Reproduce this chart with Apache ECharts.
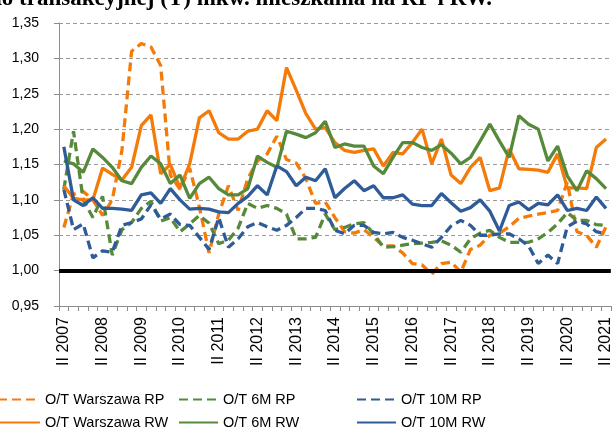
<!DOCTYPE html>
<html>
<head>
<meta charset="utf-8">
<script src="https://cdn.jsdelivr.net/npm/echarts@6/dist/echarts.min.js"></script>
<style>
  html, body { margin: 0; padding: 0; background: #fff; }
  #chart { width: 614px; height: 435px; }
</style>
</head>
<body>
<div id="chart"></div>
<script>
// kwartaly od II 2007 do II 2021
var quarterNames = ['I', 'II', 'III', 'IV'];
var categories = [];
for (var y = 2007; y <= 2021; y++) {
    for (var q = 0; q < 4; q++) {
        if (y === 2007 && q === 0) continue;
        if (y === 2021 && q > 1) continue;
        categories.push(quarterNames[q] + ' ' + y);
    }
}

// os Y
var yMin = 0.95;
var yMax = 1.35;
var yStep = 0.05;
var baseLevel = 1.00;

// O/T Warszawa RP
var warszawaRP = [1.061, 1.108, 1.112, 1.100, 1.078, 1.100, 1.170, 1.310, 1.321, 1.316,
    1.290, 1.135, 1.115, 1.145, 1.090, 1.025, 1.080, 1.120, 1.085, 1.130,
    1.155, 1.165, 1.190, 1.157, 1.152, 1.130, 1.095, 1.097, 1.075, 1.055,
    1.053, 1.058, 1.047, 1.035, 1.035, 1.025, 1.010, 1.008, 0.995, 1.010,
    1.012, 0.998, 1.030, 1.036, 1.050, 1.053, 1.062, 1.074, 1.077, 1.080,
    1.082, 1.085, 1.125, 1.055, 1.050, 1.033, 1.062];

// O/T 6M RP
var m6RP = [1.115, 1.197, 1.100, 1.075, 1.105, 1.022, 1.058, 1.068, 1.088, 1.098,
    1.070, 1.075, 1.055, 1.066, 1.078, 1.067, 1.038, 1.043, 1.060, 1.095,
    1.088, 1.092, 1.088, 1.080, 1.045, 1.045, 1.047, 1.080, 1.058, 1.061,
    1.066, 1.068, 1.052, 1.033, 1.034, 1.036, 1.038, 1.039, 1.040, 1.042,
    1.036, 1.026, 1.045, 1.053, 1.057, 1.047, 1.040, 1.040, 1.040, 1.045,
    1.054, 1.066, 1.082, 1.071, 1.071, 1.065, 1.064];

// O/T 10M RP
var m10RP = [1.115, 1.058, 1.066, 1.018, 1.028, 1.026, 1.064, 1.068, 1.073, 1.093,
    1.073, 1.080, 1.065, 1.064, 1.047, 1.030, 1.075, 1.033, 1.045, 1.062,
    1.068, 1.062, 1.057, 1.064, 1.075, 1.088, 1.088, 1.085, 1.057, 1.052,
    1.064, 1.064, 1.054, 1.052, 1.054, 1.047, 1.043, 1.038, 1.033, 1.047,
    1.063, 1.071, 1.064, 1.050, 1.050, 1.052, 1.052, 1.045, 1.035, 1.010,
    1.022, 1.010, 1.062, 1.070, 1.066, 1.055, 1.052];

// O/T Warszawa RW
var warszawaRW = [1.120, 1.102, 1.100, 1.100, 1.145, 1.136, 1.128, 1.146, 1.205, 1.220,
    1.137, 1.150, 1.117, 1.151, 1.216, 1.226, 1.195, 1.186, 1.186, 1.197,
    1.200, 1.226, 1.212, 1.287, 1.255, 1.222, 1.200, 1.202, 1.181, 1.170,
    1.167, 1.170, 1.172, 1.148, 1.167, 1.165, 1.181, 1.200, 1.151, 1.186,
    1.135, 1.123, 1.146, 1.160, 1.113, 1.117, 1.172, 1.144, 1.143, 1.142,
    1.139, 1.165, 1.117, 1.117, 1.116, 1.174, 1.186];

// O/T 6M RW
var m6RW = [1.155, 1.151, 1.139, 1.172, 1.160, 1.146, 1.127, 1.123, 1.146, 1.162,
    1.151, 1.123, 1.135, 1.102, 1.123, 1.132, 1.116, 1.107, 1.107, 1.116,
    1.162, 1.153, 1.146, 1.197, 1.193, 1.188, 1.195, 1.211, 1.174, 1.179,
    1.176, 1.176, 1.148, 1.137, 1.160, 1.181, 1.181, 1.174, 1.170, 1.178,
    1.166, 1.151, 1.160, 1.183, 1.207, 1.183, 1.160, 1.219, 1.207, 1.200,
    1.155, 1.176, 1.134, 1.113, 1.141, 1.130, 1.116];

// O/T 10M RW
var m10RW = [1.175, 1.100, 1.092, 1.103, 1.088, 1.088, 1.087, 1.085, 1.107, 1.110,
    1.095, 1.116, 1.100, 1.087, 1.088, 1.087, 1.083, 1.082, 1.095, 1.105,
    1.120, 1.107, 1.148, 1.140, 1.120, 1.132, 1.127, 1.144, 1.103, 1.116,
    1.127, 1.113, 1.120, 1.103, 1.103, 1.107, 1.094, 1.092, 1.092, 1.109,
    1.096, 1.084, 1.089, 1.100, 1.084, 1.056, 1.092, 1.097, 1.086, 1.095,
    1.093, 1.107, 1.085, 1.088, 1.085, 1.104, 1.088];

var ORANGE = '#F47B0A';
var GREEN = '#568A3A';
var BLUE = '#2F5B98';
var FONT = 'Arial, "Liberation Sans", sans-serif';

function makeSeries(name, data, color, dashed) {
    return {
        name: name,
        type: 'line',
        data: data,
        symbol: 'none',
        smooth: false,
        lineStyle: {
            color: color,
            width: 3.3,
            type: dashed ? [9, 5] : 'solid',
            cap: 'butt'
        },
        itemStyle: { color: color }
    };
}

var series = [
    makeSeries('O/T Warszawa RP', warszawaRP, ORANGE, true),
    makeSeries('O/T 6M RP', m6RP, GREEN, true),
    makeSeries('O/T 10M RP', m10RP, BLUE, true),
    makeSeries('O/T Warszawa RW', warszawaRW, ORANGE, false),
    makeSeries('O/T 6M RW', m6RW, GREEN, false),
    makeSeries('O/T 10M RW', m10RW, BLUE, false)
];

// czarna linia na poziomie 1,00
series[0].markLine = {
    silent: true,
    symbol: 'none',
    label: { show: false },
    lineStyle: { color: '#000', width: 4, type: 'solid' },
    data: [{ yAxis: baseLevel }]
};

// legenda - 2 wiersze po 3 pozycje
var legendPos = [
    { left: -3, top: 392, w: 42 },
    { left: 178, top: 392, w: 39 },
    { left: 356, top: 392, w: 39 },
    { left: -3, top: 415, w: 42 },
    { left: 178, top: 415, w: 39 },
    { left: 356, top: 415, w: 39 }
];
var legends = [];
for (var i = 0; i < series.length; i++) {
    legends.push({
        data: [series[i].name],
        left: legendPos[i].left,
        top: legendPos[i].top,
        itemWidth: legendPos[i].w,
        itemHeight: 14,
        padding: 0,
        selectedMode: false,
        // bez kolka na ikonie, sama linia
        itemStyle: { color: 'transparent', borderWidth: 0, opacity: 0 },
        textStyle: { fontFamily: FONT, fontSize: 14.5, color: '#000' }
    });
}

var chart = echarts.init(document.getElementById('chart'), null, { renderer: 'canvas' });
chart.setOption({
    animation: false,
    backgroundColor: '#fff',
    grid: { left: 59, right: 3, top: 23, bottom: 129, containLabel: false },
    legend: legends,
    graphic: [{
        type: 'text',
        left: -11,
        top: -12,
        style: {
            text: 'do transakcyjnej (T) mkw. mieszkania na RP i RW.',
            font: 'bold 23px "Liberation Serif", "Times New Roman", serif',
            fill: '#000'
        }
    }],
    xAxis: {
        type: 'category',
        data: categories,
        boundaryGap: true,
        axisLine: { lineStyle: { color: '#8c8c8c', width: 1 } },
        axisTick: { show: true, interval: 0, length: 5, lineStyle: { color: '#8c8c8c' } },
        axisLabel: {
            interval: function (index) { return index % 4 === 0; },
            rotate: 90,
            margin: 11,
            fontFamily: FONT,
            fontSize: 16,
            color: '#000'
        },
        splitLine: { show: false }
    },
    yAxis: {
        type: 'value',
        min: yMin,
        max: yMax,
        interval: yStep,
        axisLine: { show: true, lineStyle: { color: '#8c8c8c', width: 1 } },
        axisTick: { show: true, length: 5, lineStyle: { color: '#8c8c8c' } },
        axisLabel: {
            margin: 20,
            fontFamily: FONT,
            fontSize: 14,
            color: '#000',
            formatter: function (v) { return v.toFixed(2).replace('.', ','); }
        },
        splitLine: { show: true, lineStyle: { color: '#9a9a9a', width: 1, type: [4, 3] } }
    },
    series: series
});
</script>
</body>
</html>
